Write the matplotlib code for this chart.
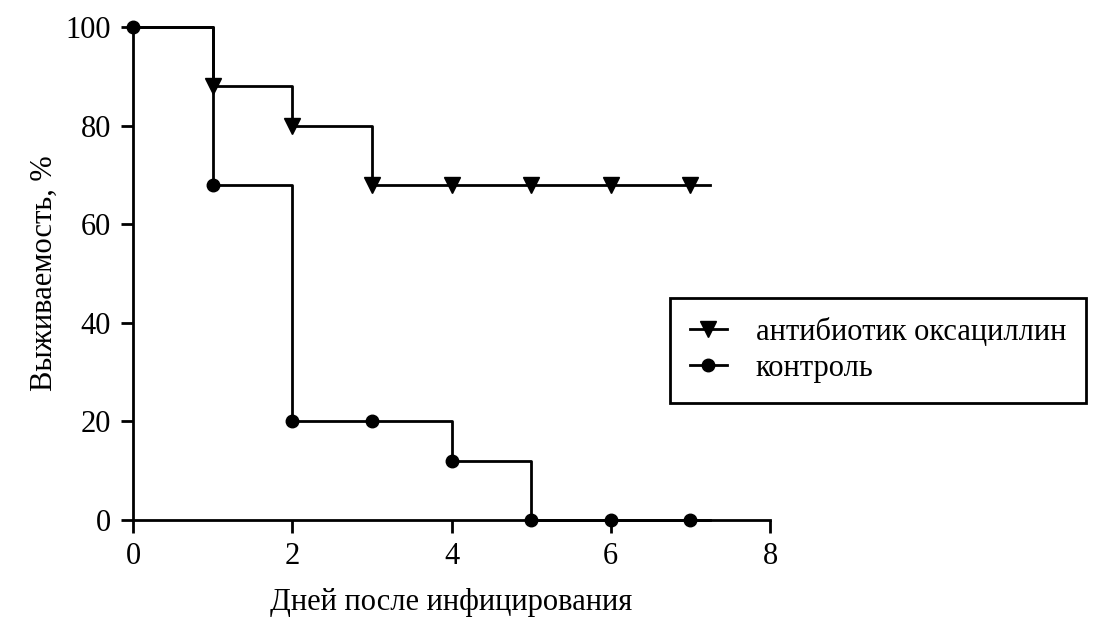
import matplotlib
matplotlib.use('Agg')
import matplotlib.pyplot as plt

plt.rcParams['font.family'] = ['Liberation Serif', 'DejaVu Serif']

days = [0, 1, 2, 3, 4, 5, 6, 7]
antibiotic = [100, 88, 80, 68, 68, 68, 68, 68]
control = [100, 68, 20, 20, 12, 0, 0, 0]
line_end = 7.25

xticks = [0, 2, 4, 6, 8]
yticks = [0, 20, 40, 60, 80, 100]

fig = plt.figure(figsize=(11.04, 6.2), dpi=100)
ax = fig.add_axes([0.1205, 0.1613, 0.577, 0.7952])

# step lines extended a little past the last day
ax.step(days + [line_end], antibiotic + [antibiotic[-1]], where='post',
        color='black', lw=2, clip_on=False)
ax.plot(days[1:], antibiotic[1:], 'v', color='black', ms=11, clip_on=False)
ax.step(days + [line_end], control + [control[-1]], where='post',
        color='black', lw=2, clip_on=False)
ax.plot(days, control, 'o', color='black', ms=9, clip_on=False)

# legend proxies
h1, = ax.plot([], [], '-v', color='black', lw=2, ms=11,
              label='антибиотик оксациллин')
h2, = ax.plot([], [], '-o', color='black', lw=2, ms=9, label='контроль')

ax.set_xlim(0, 8)
ax.set_ylim(0, 100)
ax.set_xticks(xticks)
ax.set_yticks(yticks)
for s in ['top', 'right']:
    ax.spines[s].set_visible(False)
for s in ['left', 'bottom']:
    ax.spines[s].set_linewidth(2)
ax.tick_params(direction='out', length=9, width=2, labelsize=22, pad=7)

ax.set_xlabel('Дней после инфицирования', fontsize=22, labelpad=12)
ax.set_ylabel('Выживаемость, %', fontsize=22, labelpad=5)

leg = fig.legend(handles=[h1, h2], loc='upper left',
                 bbox_to_anchor=(0.607, 0.519), fontsize=22,
                 fancybox=False, edgecolor='black', framealpha=1,
                 handlelength=1.2, borderpad=0.65, labelspacing=0.22,
                 handletextpad=0.95, borderaxespad=0)
leg.get_frame().set_linewidth(2)

fig.savefig('out.png', dpi=100)
